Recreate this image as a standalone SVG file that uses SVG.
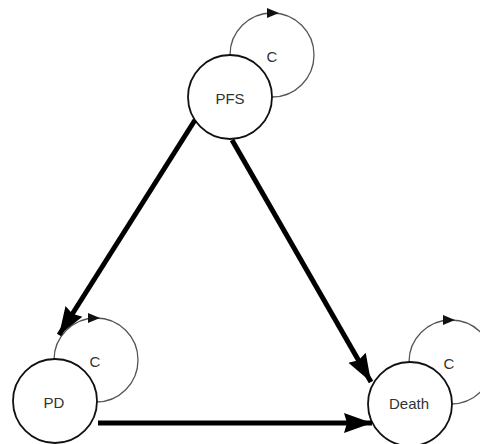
<svg xmlns="http://www.w3.org/2000/svg" width="480" height="444" viewBox="0 0 480 444">
  <style>
    .node { fill: #ffffff; stroke: #111111; stroke-width: 1.8; }
    .loop { fill: none; stroke: #555555; stroke-width: 1.3; }
    .lbl { font-family: "Liberation Sans", Arial, sans-serif; font-size: 15px; fill: #333333; text-anchor: middle; dominant-baseline: central; }
    .edge { stroke: #000000; stroke-width: 5; fill: none; }
    .loophead { fill: #111111; }
  </style>
  <defs>
    <marker id="big" markerUnits="userSpaceOnUse" markerWidth="28" markerHeight="22" viewBox="0 0 28 22" refX="28" refY="11" orient="auto">
      <path d="M0,1 L28,11 L0,21 L3,11 Z" fill="#000000"/>
    </marker>
  </defs>
  <rect width="480" height="444" fill="#ffffff"/>

  <g id="node-pfs">
    <circle class="loop" cx="272" cy="55" r="42"/>
    <path class="loophead" d="M267,8 L279,13 L267,18 Z"/>
    <text class="lbl" x="272" y="56">C</text>
    <circle class="node" cx="230" cy="97" r="42"/>
    <text class="lbl" x="230" y="98">PFS</text>
  </g>

  <g id="node-pd">
    <circle class="loop" cx="96" cy="360" r="42"/>
    <path class="loophead" d="M88,313 L100,318 L88,323 Z"/>
    <text class="lbl" x="95" y="361">C</text>
    <circle class="node" cx="55" cy="401" r="42"/>
    <text class="lbl" x="54" y="402">PD</text>
  </g>

  <g id="node-death">
    <circle class="loop" cx="451" cy="362" r="42"/>
    <path class="loophead" d="M443,315 L455,320 L443,325 Z"/>
    <text class="lbl" x="449" y="363">C</text>
    <circle class="node" cx="410" cy="404" r="42"/>
    <text class="lbl" x="409" y="403">Death</text>
  </g>

  <g id="connectors">
    <line class="edge" x1="195" y1="120" x2="59" y2="335" marker-end="url(#big)"/>
    <line class="edge" x1="232" y1="140" x2="371" y2="382" marker-end="url(#big)"/>
    <line class="edge" x1="98" y1="423" x2="372" y2="423" marker-end="url(#big)"/>
  </g>
</svg>
